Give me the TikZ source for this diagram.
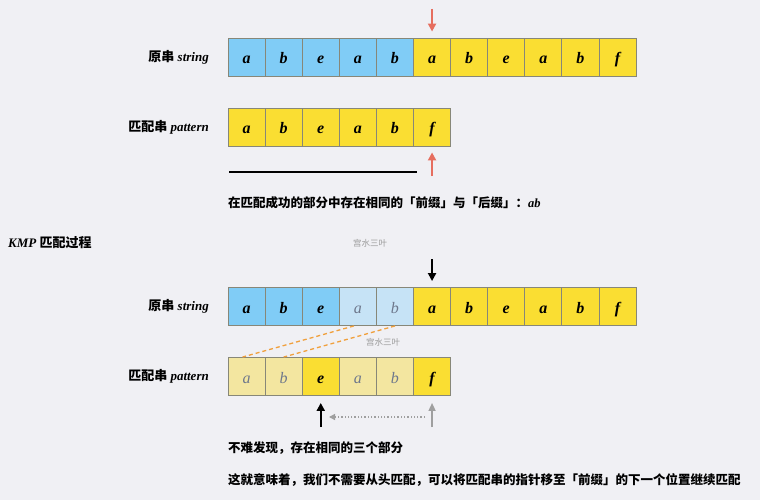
\documentclass[tikz,border=0pt]{standalone}
\usepackage{fontspec}
\setmainfont{Liberation Serif}
\newfontfamily\cjk{Noto Sans CJK SC}
\usetikzlibrary{arrows.meta}
\definecolor{bgcol}{RGB}{240,240,244}
\definecolor{strblue}{RGB}{128,204,246}
\definecolor{lightblue}{RGB}{198,227,246}
\definecolor{patyellow}{RGB}{250,222,50}
\definecolor{lightyellow}{RGB}{243,230,160}
\definecolor{cellline}{RGB}{135,135,120}
\definecolor{redarrow}{RGB}{230,110,95}
\definecolor{dashorange}{RGB}{240,160,60}
\definecolor{fadetext}{RGB}{110,120,140}
\tikzset{
  cell/.style={draw=cellline,line width=0.9pt,minimum width=37.1pt,minimum height=38pt,
    inner sep=0pt,text height=13pt,text depth=0pt,
    font=\fontsize{16}{16}\selectfont\bfseries\itshape},
  blue/.style={cell,fill=strblue},
  fadeblue/.style={cell,fill=lightblue,text=fadetext,font=\fontsize{16}{16}\selectfont\itshape},
  yellow/.style={cell,fill=patyellow},
  fadeyellow/.style={cell,fill=lightyellow,text=fadetext,font=\fontsize{16}{16}\selectfont\itshape},
  rowlabel/.style={anchor=east,inner sep=0pt,font=\fontsize{13}{14}\selectfont\bfseries},
  caption/.style={anchor=west,inner sep=0pt,font=\fontsize{12.5}{14}\selectfont\bfseries},
  stamp/.style={inner sep=0pt,text=gray!80,font=\cjk\fontsize{8.5}{9}\selectfont},
  pointer/.style={line width=2pt}
}
\newcommand{\zh}[1]{{\cjk #1}}
\begin{document}
\begin{tikzpicture}[x=1pt,y=-1pt]
  \fill[bgcol] (0,0) rectangle (760,500);
  \useasboundingbox (0,0) rectangle (760,500);
  % first round
  \node[rowlabel] (lbs) at (209,57) {\zh{原串} \textit{string}};
  \node[blue]   (s1)  at (246.55,57) {a};
  \node[blue]   (s2)  at (283.65,57) {b};
  \node[blue]   (s3)  at (320.75,57) {e};
  \node[blue]   (s4)  at (357.85,57) {a};
  \node[blue]   (s5)  at (394.95,57) {b};
  \node[yellow] (s6)  at (432.05,57) {a};
  \node[yellow] (s7)  at (469.15,57) {b};
  \node[yellow] (s8)  at (506.25,57) {e};
  \node[yellow] (s9)  at (543.35,57) {a};
  \node[yellow] (s10) at (580.45,57) {b};
  \node[yellow] (s11) at (617.55,57) {f};
  \node[rowlabel] (lbp) at (209,127) {\zh{匹配串} \textit{pattern}};
  \node[yellow] (p1) at (246.55,127) {a};
  \node[yellow] (p2) at (283.65,127) {b};
  \node[yellow] (p3) at (320.75,127) {e};
  \node[yellow] (p4) at (357.85,127) {a};
  \node[yellow] (p5) at (394.95,127) {b};
  \node[yellow] (p6) at (432.05,127) {f};
  \coordinate (ra) at (432.05,9);
  \coordinate (rb) at (432.05,176);
  \draw[pointer,redarrow,-{Triangle[length=8pt,width=8pt]},shorten >=6pt] (ra) -- (s6.north);
  \draw[pointer,redarrow,-{Triangle[length=8pt,width=8pt]},shorten >=6pt] (rb) -- (p6.south);
  \coordinate (m1) at (229,172);
  \coordinate (m2) at (417,172);
  \draw[line width=2.4pt] (m1) -- (m2);
  \node[caption] (note1) at (228,203) {\zh{在匹配成功的部分中存在相同的「前缀」与「后缀」：}\textit{ab}};
  % KMP
  \node[anchor=west,inner sep=0pt,font=\fontsize{13}{14}\selectfont\bfseries] (title) at (8,243) {\textit{KMP} \zh{匹配过程}};
  \node[stamp] (w1) at (370,243) {宫水三叶};
  \node[rowlabel] (lbt) at (209,306.5) {\zh{原串} \textit{string}};
  \node[blue]     (t1)  at (246.55,306.5) {a};
  \node[blue]     (t2)  at (283.65,306.5) {b};
  \node[blue]     (t3)  at (320.75,306.5) {e};
  \node[fadeblue] (t4)  at (357.85,306.5) {a};
  \node[fadeblue] (t5)  at (394.95,306.5) {b};
  \node[yellow]   (t6)  at (432.05,306.5) {a};
  \node[yellow]   (t7)  at (469.15,306.5) {b};
  \node[yellow]   (t8)  at (506.25,306.5) {e};
  \node[yellow]   (t9)  at (543.35,306.5) {a};
  \node[yellow]   (t10) at (580.45,306.5) {b};
  \node[yellow]   (t11) at (617.55,306.5) {f};
  \node[stamp] (w2) at (383,342) {宫水三叶};
  \node[rowlabel] (lbq) at (209,376.5) {\zh{匹配串} \textit{pattern}};
  \node[fadeyellow] (q1) at (246.55,376.5) {a};
  \node[fadeyellow] (q2) at (283.65,376.5) {b};
  \node[yellow]     (q3) at (320.75,376.5) {e};
  \node[fadeyellow] (q4) at (357.85,376.5) {a};
  \node[fadeyellow] (q5) at (394.95,376.5) {b};
  \node[yellow]     (q6) at (432.05,376.5) {f};
  \draw[dashorange,dash pattern=on 4pt off 3pt,line width=1.3pt] ([xshift=-4pt]t4.south) -- ([xshift=-4pt]q1.north);
  \draw[dashorange,dash pattern=on 4pt off 3pt,line width=1.3pt] (t5.south) -- (q2.north);
  \coordinate (ka) at (432.05,259);
  \coordinate (kb) at (320.75,427);
  \coordinate (kc) at (432.05,427);
  \coordinate (kd) at (425,417);
  \coordinate (ke) at (329,417);
  \draw[pointer,-{Triangle[length=8pt,width=8pt]},shorten >=6pt] (ka) -- (t6.north);
  \draw[pointer,-{Triangle[length=8pt,width=8pt]},shorten >=7pt] (kb) -- (q3.south);
  \draw[-{Triangle[length=8pt,width=7pt]},gray!75,line width=1.5pt,shorten >=7pt] (kc) -- (q6.south);
  \draw[gray!75,dotted,line width=1.3pt,-{Triangle[length=6pt,width=6pt]}] (kd) -- (ke);
  \node[caption] (note2) at (228,448) {\zh{不难发现，存在相同的三个部分}};
  \node[caption] (note3) at (228,480) {\zh{这就意味着，我们不需要从头匹配，可以将匹配串的指针移至「前缀」的下一个位置继续匹配}};
\end{tikzpicture}
\end{document}
